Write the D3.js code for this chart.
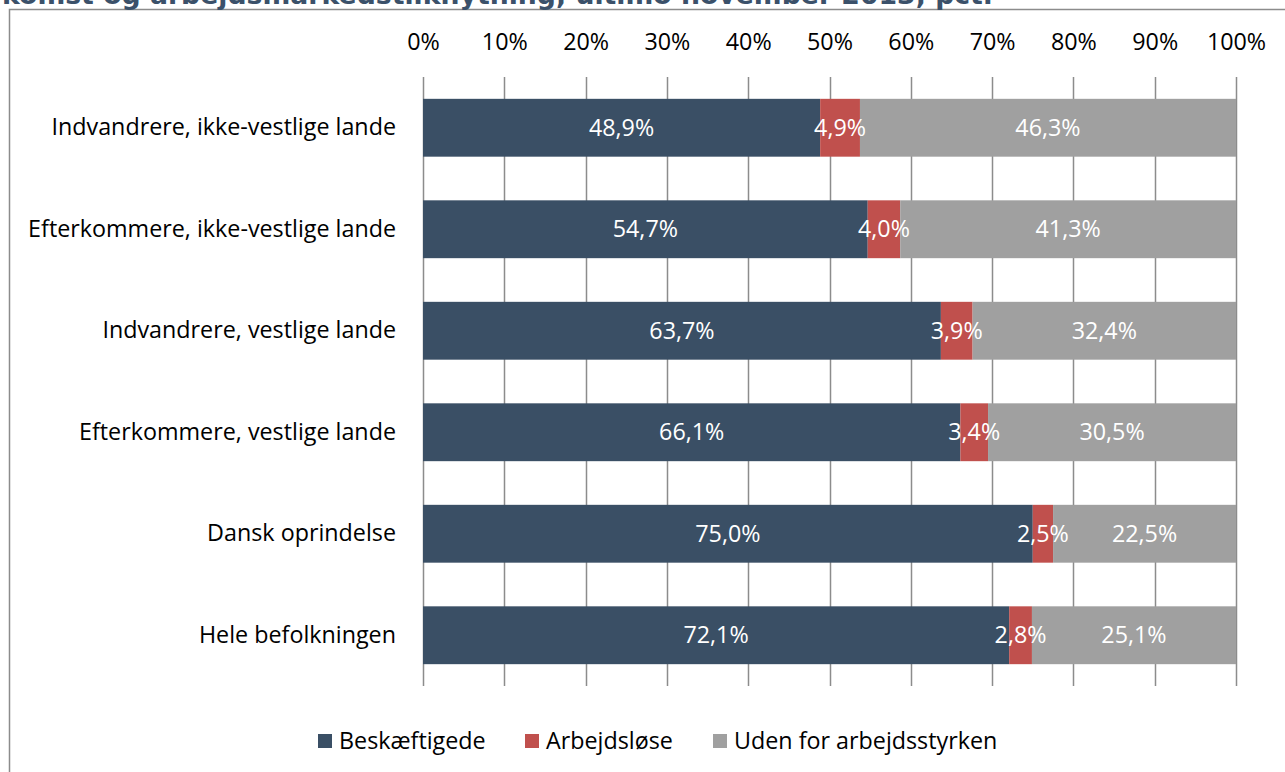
<!DOCTYPE html>
<html>
<head>
<meta charset="utf-8">
<script src="https://cdn.jsdelivr.net/npm/d3@7"></script>
<style>
  html, body { margin: 0; padding: 0; background: #fff; overflow: hidden; }
  svg text { font-family: "Open Sans", "Noto Sans", sans-serif; }
</style>
</head>
<body>
<svg id="chart" width="1285" height="772"></svg>
<script>
// Data
var categories = [
	'Indvandrere, ikke-vestlige lande',
	'Efterkommere, ikke-vestlige lande',
	'Indvandrere, vestlige lande',
	'Efterkommere, vestlige lande',
	'Dansk oprindelse',
	'Hele befolkningen'
];
var seriesNames = ['Beskæftigede', 'Arbejdsløse', 'Uden for arbejdsstyrken'];
var beskaeftigede = [48.9, 54.7, 63.7, 66.1, 75.0, 72.1];
var arbejdsloese = [4.9, 4.0, 3.9, 3.4, 2.5, 2.8];
var udenFor = [46.3, 41.3, 32.4, 30.5, 22.5, 25.1];
var tickValues = [0, 0.1, 0.2, 0.3, 0.4, 0.5, 0.6, 0.7, 0.8, 0.9, 1];
var titleText = 'komst og arbejdsmarkedstilknytning, ultimo november 2013, pct.';

var colors = ['#3a4f65', '#c0504d', '#a0a0a0'];
var fontSize = '23.3px';

var svg = d3.select('#chart');
var margin = {top: 77, left: 423, right: 49, bottom: 86};
var width = 1285 - margin.left - margin.right;
var height = 772 - margin.top - margin.bottom;

// Frame (runs off the right and bottom edge)
svg.append('rect')
	.attr('x', 9.5).attr('y', 9.5)
	.attr('width', 1400).attr('height', 900)
	.attr('fill', '#fff')
	.attr('stroke', '#8c8c8c')
	.attr('stroke-width', 1.5);

// Title, cut off at the top
svg.append('text')
	.attr('x', 2).attr('y', 4)
	.attr('font-weight', 'bold')
	.attr('fill', '#3b516a')
	.attr('textLength', 991)
	.attr('lengthAdjust', 'spacingAndGlyphs')
	.style('font-family', '"DejaVu Sans", sans-serif')
	.style('font-size', '26.5px')
	.text(titleText);

var rows = categories.map(function (c, i) {
	return {cat: c, 'Beskæftigede': beskaeftigede[i], 'Arbejdsløse': arbejdsloese[i], 'Uden for arbejdsstyrken': udenFor[i]};
});
var stacked = d3.stack().keys(seriesNames).offset(d3.stackOffsetExpand)(rows);

var x = d3.scaleLinear().domain([0, 1]).range([0, width]);
var y = d3.scaleBand().domain(categories).range([0, height]).paddingInner(0.43).paddingOuter(0.215);

var g = svg.append('g').attr('transform', 'translate(' + margin.left + ',' + margin.top + ')');

// Vertical gridlines
g.append('g').selectAll('line')
	.data(tickValues)
	.join('line')
	.attr('x1', function (d) { return Math.round(x(d)) + 0.5; })
	.attr('x2', function (d) { return Math.round(x(d)) + 0.5; })
	.attr('y1', 0).attr('y2', height)
	.attr('stroke', '#8c8c8c')
	.attr('stroke-width', 1.5);

// Top axis labels
var axis = g.append('g')
	.attr('transform', 'translate(0,-27)')
	.call(d3.axisTop(x).tickValues(tickValues).tickSize(0).tickPadding(0).tickFormat(d3.format('.0%')));
axis.select('.domain').remove();
axis.selectAll('text')
	.attr('font-family', null)
	.style('font-size', fontSize)
	.attr('fill', '#000')
	.attr('dy', 0);

// Category labels
var yAxis = g.append('g')
	.call(d3.axisLeft(y).tickSize(0).tickPadding(27));
yAxis.select('.domain').remove();
yAxis.selectAll('text')
	.attr('font-family', null)
	.style('font-size', fontSize)
	.attr('fill', '#000');

// Bars
var layer = g.selectAll('.layer')
	.data(stacked)
	.join('g')
	.attr('class', 'layer')
	.attr('fill', function (d, i) { return colors[i]; });

layer.selectAll('rect')
	.data(function (d) { return d; })
	.join('rect')
	.attr('x', function (d) { return x(d[0]); })
	.attr('y', function (d) { return y(d.data.cat); })
	.attr('width', function (d) { return x(d[1]) - x(d[0]); })
	.attr('height', y.bandwidth());

// Value labels
var fmt = function (v) { return v.toFixed(1).replace('.', ',') + '%'; };
stacked.forEach(function (s) {
	g.append('g').selectAll('text')
		.data(s)
		.join('text')
		.attr('x', function (d) { return (x(d[0]) + x(d[1])) / 2; })
		.attr('y', function (d) { return y(d.data.cat) + y.bandwidth() / 2; })
		.attr('dy', '0.35em')
		.attr('text-anchor', 'middle')
		.attr('fill', '#fff')
		.style('font-size', fontSize)
		.text(function (d) { return fmt(d.data[s.key]); });
});

// Legend
var legendX = [318, 525, 713];
var legend = svg.append('g').attr('transform', 'translate(0,741)');
var items = legend.selectAll('g')
	.data(seriesNames)
	.join('g')
	.attr('transform', function (d, i) { return 'translate(' + legendX[i] + ',0)'; });
items.append('rect')
	.attr('x', 0).attr('y', -7)
	.attr('width', 14).attr('height', 14)
	.attr('fill', function (d, i) { return colors[i]; });
items.append('text')
	.attr('x', 21).attr('y', 0)
	.attr('dy', '0.35em')
	.style('font-size', fontSize)
	.attr('fill', '#000')
	.text(function (d) { return d; });
</script>
</body>
</html>
